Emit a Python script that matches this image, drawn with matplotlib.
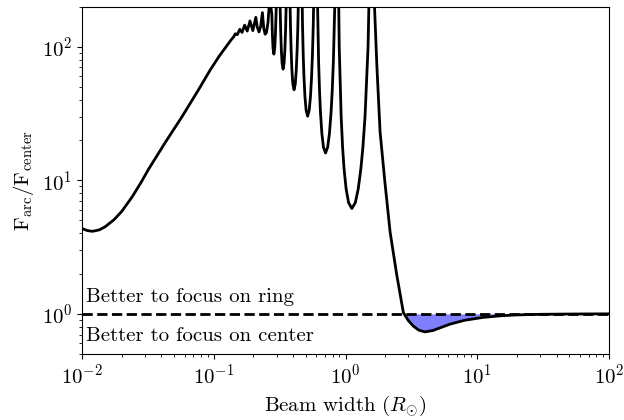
import matplotlib
matplotlib.use("Agg")
import matplotlib.pyplot as plt
import numpy as np

plt.rcParams['font.family'] = 'serif'
plt.rcParams['font.serif'] = ['cmr10']
plt.rcParams['mathtext.fontset'] = 'cm'
plt.rcParams['axes.formatter.use_mathtext'] = True
plt.rcParams['font.size'] = 15

# rising part (small beam widths)
rise_x = [0.0100, 0.0110, 0.0120, 0.0135, 0.0150, 0.0175, 0.0200, 0.0240, 0.0280,
          0.0320, 0.0430, 0.0575, 0.0770, 0.0940, 0.1100, 0.1250, 0.1350, 0.1420]
rise_y = [4.35, 4.20, 4.15, 4.25, 4.49, 5.07, 5.84, 7.50, 9.60,
          12.1, 19.3, 30.0, 48.0, 67.0, 85.0, 101.0, 112.0, 119.0]

# small wiggles
wig_x = [0.1456, 0.1510, 0.1575, 0.1640, 0.1715, 0.1795, 0.1883, 0.1980, 0.2086,
         0.2140, 0.2205, 0.2270, 0.2340, 0.2395, 0.2455, 0.2515, 0.2580, 0.2660]
wig_y = [125, 123, 135, 128, 145, 131, 156, 132, 166,
         140, 129, 142, 180, 138, 124, 128, 152, 230]

# large oscillations (peaks run off the top of the axes)
osc_x = [0.2758, 0.2786, 0.2818, 0.2860, 0.2903, 0.2938, 0.2970, 0.2993, 0.3090,
         0.3165, 0.3191, 0.3218, 0.3256, 0.3301, 0.3358, 0.3418, 0.3467, 0.3511, 0.3544, 0.3577, 0.3680,
         0.3788, 0.3826, 0.3864, 0.3919, 0.3984, 0.4068, 0.4156, 0.4229, 0.4295, 0.4344, 0.4394, 0.4550,
         0.4637, 0.4717, 0.4775, 0.4835, 0.4922, 0.5025, 0.5160, 0.5302, 0.5421, 0.5530, 0.5611,
         0.5694, 0.5815, 0.5960,
         0.6110, 0.6249, 0.6353, 0.6459, 0.6615, 0.6803, 0.7052, 0.7321, 0.7551, 0.7764, 0.7925,
         0.8090, 0.8340, 0.8640,
         0.8760, 0.8960, 0.9270, 0.9500, 0.9740, 1.0105, 1.0550, 1.1170, 1.1870, 1.2490, 1.3090,
         1.3560, 1.4060, 1.4830, 1.5430, 1.5800]
osc_y = [176, 123, 97.3, 88, 97.3, 123, 176, 254, 3000,
         330, 197, 136, 95.4, 75.2, 68, 75.2, 95.4, 136, 197, 330, 3000,
         231, 138, 95.2, 66.8, 52.6, 47.6, 52.6, 66.8, 95.2, 138, 231, 3000,
         489, 146, 87.4, 60.4, 42.4, 33.4, 30.2, 33.4, 42.4, 60.4, 87.4,
         146, 489, 3000,
         259, 77.6, 46.3, 32.0, 22.4, 17.7, 16.0, 17.7, 22.4, 32.0, 46.3,
         77.6, 259, 3000,
         695, 99.6, 29.8, 17.8, 12.3, 8.63, 6.80, 6.15, 6.80, 8.63, 12.3,
         17.8, 29.8, 99.6, 695, 3000]

# large beam widths
tail_x = [1.62, 1.66, 1.73, 1.83, 1.99, 2.18, 2.45, 2.75, 3.00, 3.27, 3.60, 4.00,
          4.60, 5.30, 6.20, 8.00, 11.0, 15.0, 20.0, 30.0, 50.0, 100.0]
tail_y = [600, 200, 72, 23, 9.7, 4.1, 1.95, 1.02, 0.89, 0.81, 0.755, 0.733,
          0.75, 0.79, 0.837, 0.895, 0.94, 0.967, 0.982, 0.992, 0.997, 1.0]

x = np.array(rise_x + wig_x + osc_x + tail_x)
y = np.array(rise_y + wig_y + osc_y + tail_y)

fig = plt.figure(figsize=(6.24, 4.2), dpi=100)
ax = fig.add_axes([0.1314, 0.157, 0.8446, 0.8275])

ax.plot(x, y, color='black', lw=2, solid_joinstyle='round', solid_capstyle='round')
ax.axhline(1.0, color='black', ls='--', lw=2)
ax.fill_between(x, y, 1.0, where=(y < 1.0), interpolate=True, color='blue', alpha=0.5, lw=0)

ax.text(0.0108, 1.33, 'Better to focus on ring', va='center', ha='left')
ax.text(0.0108, 0.68, 'Better to focus on center', va='center', ha='left')

ax.set_xscale('log')
ax.set_yscale('log')
ax.set_xlim(0.01, 100)
ax.set_ylim(0.5, 200)
ax.set_xlabel(r'Beam width ($R_{\odot}$)')
ax.set_ylabel(r'$\mathrm{F_{arc}/F_{center}}$')

fig.savefig('out.png', dpi=100)
